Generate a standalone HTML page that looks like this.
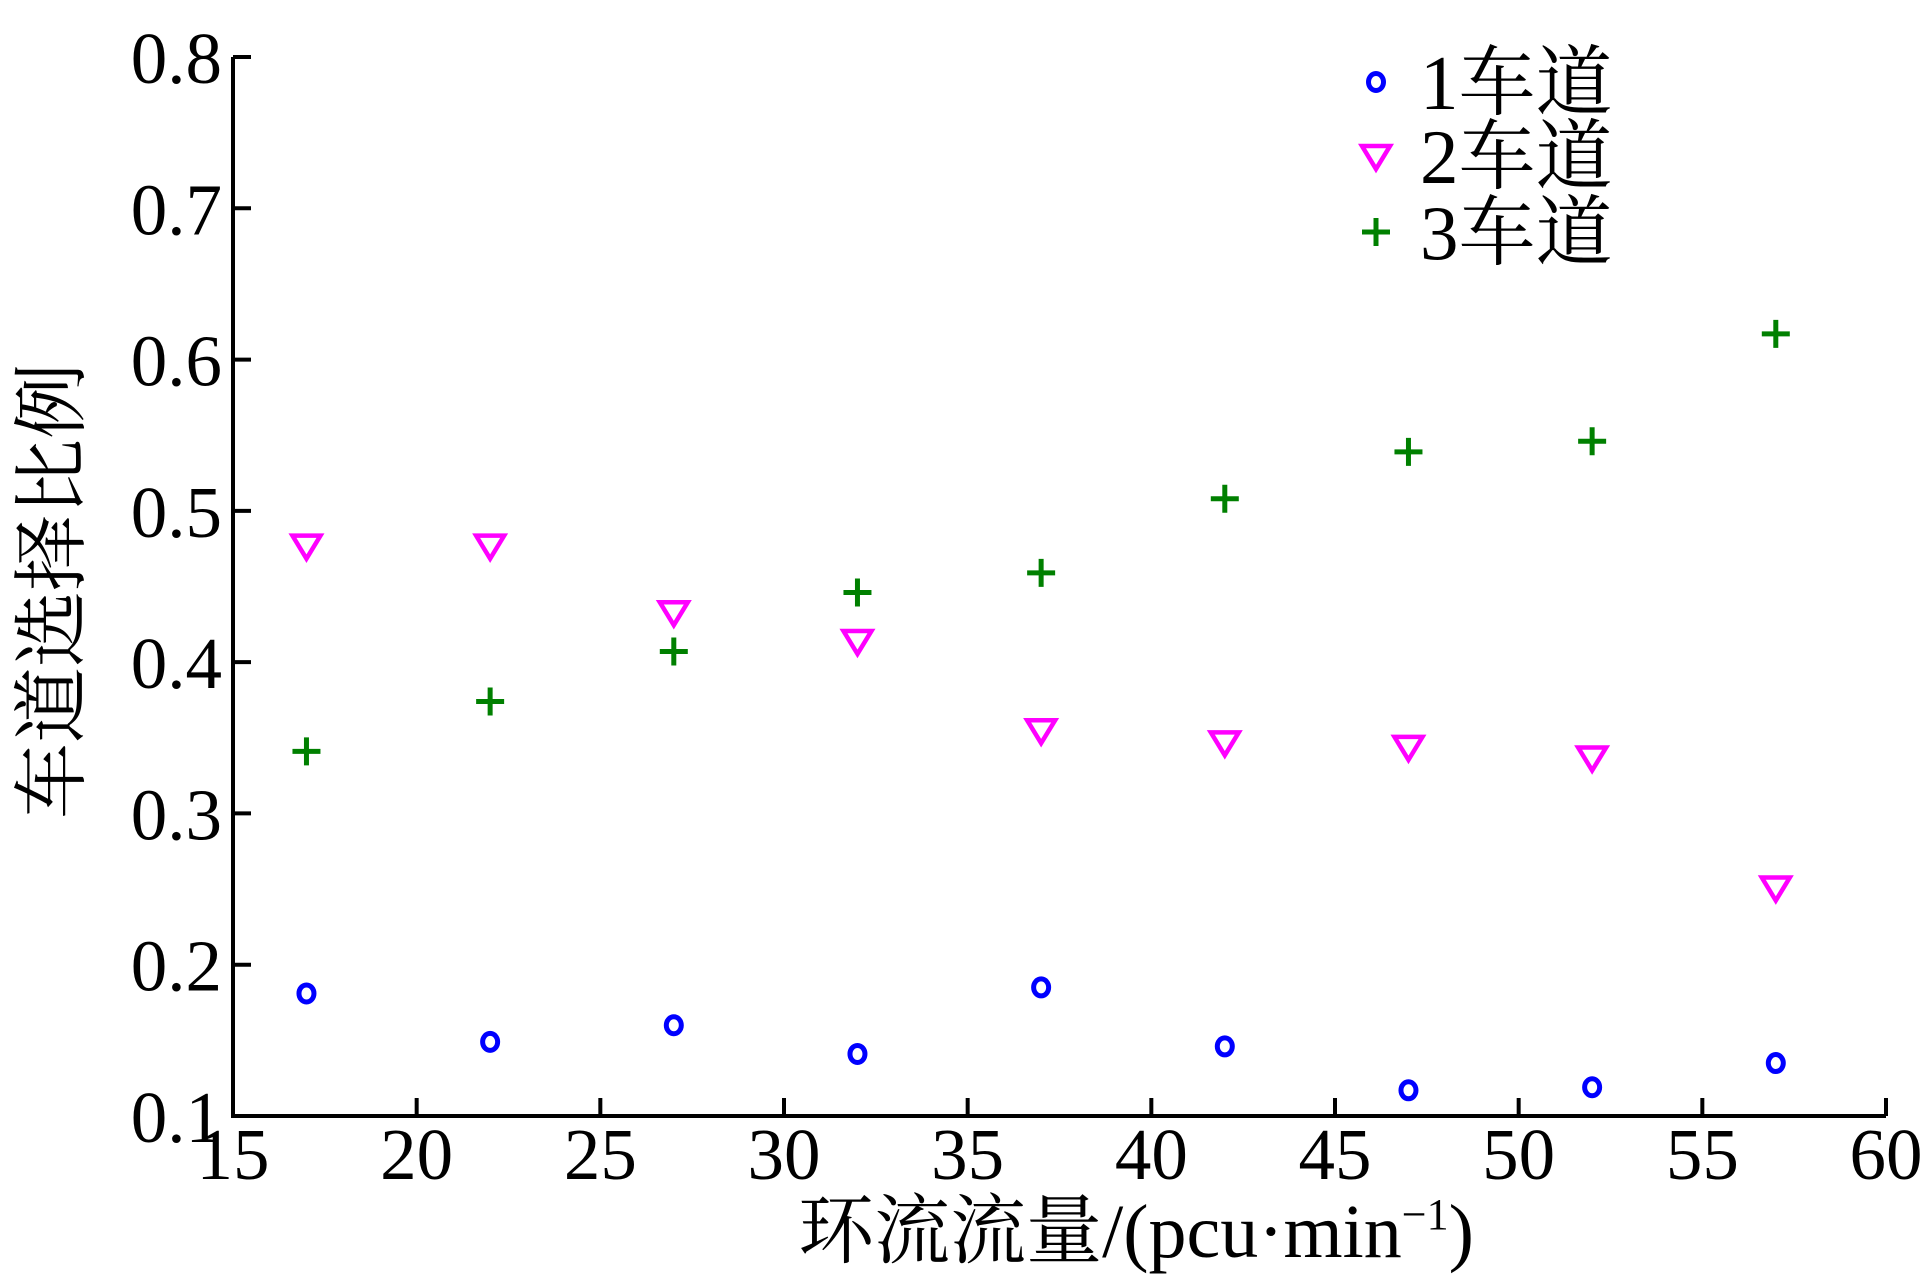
<!DOCTYPE html>
<html><head><meta charset="utf-8"><style>
html,body{margin:0;padding:0;background:#fff;}
svg{display:block;}
text{font-family:"Liberation Serif","Noto Serif CJK SC",serif;fill:#000;}
</style></head><body>
<svg id="chart" width="1932" height="1283" viewBox="0 0 1932 1283" xmlns="http://www.w3.org/2000/svg">
<g id="axes"></g>
<g id="marks"></g>
<g id="legend"></g>
<text x="1136" y="1257" font-size="76" text-anchor="middle">环流流量/(pcu·min<tspan dy="-28" font-size="44">−1</tspan><tspan dy="28">)</tspan></text>
<text transform="translate(78,591) rotate(-90)" font-size="76" text-anchor="middle">车道选择比例</text>
</svg>
<script>
const xValues=[17,22,27,32,37,42,47,52,57];
const lane1=[0.181,0.149,0.160,0.141,0.185,0.146,0.117,0.119,0.135];
const lane2=[0.477,0.477,0.433,0.414,0.355,0.347,0.344,0.337,0.251];
const lane3=[0.341,0.374,0.407,0.446,0.459,0.508,0.539,0.546,0.617];
const xTicks=[15,20,25,30,35,40,45,50,55,60];
const yTicks=[0.1,0.2,0.3,0.4,0.5,0.6,0.7,0.8];
const seriesNames=["1车道","2车道","3车道"];

const NS="http://www.w3.org/2000/svg";
const X0=233,X1=1886,Y0=1116,Y1=57;
function xs(v){return X0+(v-15)/(60-15)*(X1-X0);}
function ys(v){return Y0-(v-0.1)/(0.8-0.1)*(Y0-Y1);}
function mk(tag,attrs,parent){const e=document.createElementNS(NS,tag);for(const k in attrs)e.setAttribute(k,attrs[k]);parent.appendChild(e);return e;}
const axes=document.getElementById('axes');
let a=mk('path',{d:`M${X0},${Y1} V${Y0} H${X1}`,fill:'none',stroke:'#000','stroke-width':4},axes);


xTicks.forEach(t=>{
  const x=xs(t);
  const l=mk('line',{x1:x,x2:x,y1:Y0,y2:Y0-18,stroke:'#000','stroke-width':4},axes);
  
  
  const tx=mk('text',{x:x,y:1179,'font-size':73,'text-anchor':'middle'},axes);
  tx.textContent=t;
  
  
});
yTicks.forEach(t=>{
  const y=ys(t);
  const l=mk('line',{x1:X0,x2:X0+18,y1:y,y2:y,stroke:'#000','stroke-width':4},axes);
  
  
  const tx=mk('text',{x:222,y:y+26,'font-size':73,'text-anchor':'end'},axes);
  tx.textContent=t.toFixed(1);
  
  
});
function circle(x,y,p){return mk('ellipse',{cx:x,cy:y,rx:7.5,ry:8.5,fill:'none',stroke:'#0000ff','stroke-width':5},p);}
function tri(x,y,p){return mk('path',{d:`M${x-14},${y-10} L${x+14},${y-10} L${x},${y+13} Z`,fill:'none',stroke:'#ff00ff','stroke-width':4.5},p);}
function plus(x,y,p){return mk('path',{d:`M${x-14},${y} H${x+14} M${x},${y-14} V${y+14}`,fill:'none',stroke:'#008000','stroke-width':5},p);}
const marks=document.getElementById('marks');
xValues.forEach((xv,i)=>{
  let m=circle(xs(xv),ys(lane1[i]),marks);
  
  
  m=tri(xs(xv),ys(lane2[i]),marks);
  
  
  m=plus(xs(xv),ys(lane3[i]),marks);
  
  
});
const legend=document.getElementById('legend');
const ly=[82,156,232];
const fns=[circle,tri,plus];
seriesNames.forEach((n,i)=>{
  const m=fns[i](1376,ly[i],legend);
  
  
  const t=mk('text',{x:1420,y:ly[i]+27,'font-size':77},legend);
  t.textContent=n;
  
  
});
</script>
</body></html>
